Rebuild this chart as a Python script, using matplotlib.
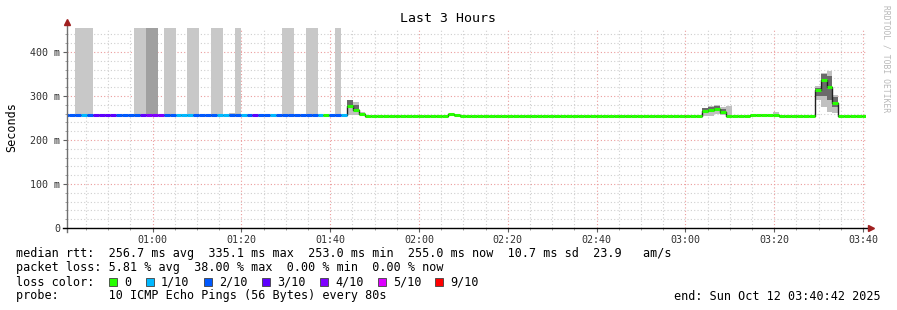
import numpy as np
import matplotlib
matplotlib.use('Agg')
import matplotlib.pyplot as plt
from matplotlib.patches import Rectangle

# time axis in minutes after midnight, one sample every 80 s
t_start = 40.7
t_end = 220.7
t0 = 41.15
step = 80 / 60.0
first_k = -1

# median rtt as runs: (number of steps, median ms, lost pings of 10)
run_len = [3, 1, 1, 4, 4, 1, 3, 2, 3, 4, 2, 2, 1, 1, 1, 2, 1, 7, 1, 1, 2, 1,
           1, 1, 1, 14, 1, 1, 39, 2, 1, 1, 1, 1, 1, 3, 4, 1, 6, 1, 1, 1, 1, 5]
run_med = [256, 256, 256, 256, 256, 256, 256, 256, 256, 256, 256, 256, 256, 256,
           256, 256, 256, 256, 256, 256, 256, 256,
           278, 268, 260, 253.5, 258, 256, 253.5, 255.5, 267, 268, 270, 263, 255,
           253.5, 256, 257, 255, 313, 336, 320, 284, 255]
run_loss = [2, 1, 2, 3, 2, 3, 4, 2, 1, 2, 1, 2, 1, 2, 3, 2, 1, 2, 1, 0, 2, 1,
            0, 0, 0, 0, 0, 0, 0, 0, 0, 0, 0, 0, 0, 0, 0, 0, 0, 0, 0, 0, 0, 0]

# full height grey columns (steps with lost pings in the smoke)
gap_start = [1, 11, 13, 16, 20, 24, 28, 36, 40, 45]
gap_len = [3, 2, 2, 2, 2, 2, 1, 2, 2, 1]
gap_dark = [0, 0, 1, 0, 0, 0, 0, 0, 0, 0]

# smoke around the median (ms)
smoke_k = [5, 6, 27, 28, 47, 48, 49, 64, 107, 108, 109, 110, 111, 119, 126, 127, 128, 129]
smoke_lo = [256, 256, 256, 256, 256, 256, 256, 256, 254, 254, 258, 256, 256, 258, 291, 276, 264, 261]
smoke_hi = [259, 259, 262, 262, 291, 286, 263, 260, 273, 277, 280, 275, 277, 263, 322, 353, 357, 302]
core_lo = [256, 256, 256, 256, 278, 265, 258, 256, 262, 264, 266, 260, 256, 258, 300, 300, 290, 275]
core_hi = [256, 256, 256, 256, 291, 280, 262, 256, 272, 275, 278, 270, 256, 258, 318, 350, 345, 298]

loss_labels = ['0', '1/10', '2/10', '3/10', '4/10', '5/10', '9/10']
loss_colors = ['#26ff00', '#00b8ff', '#0059ff', '#5e00ff', '#7e00ff', '#dd00ff', '#ff0000']

y_top = 0.4545

med = np.repeat(np.array(run_med) / 1000.0, run_len)
loss = np.repeat(run_loss, run_len)
ks = np.arange(first_k, first_k + len(med))
left = t0 + ks * step

mono = 'DejaVu Sans Mono'
fig = plt.figure(figsize=(8.97, 3.10), dpi=100)
ax = fig.add_axes([67 / 897, 82 / 310, 799 / 897, 200 / 310])

# grid
ax.set_xlim(t_start, t_end)
ax.set_ylim(0, y_top)
ax.set_xticks(np.arange(60, 221, 20))
ax.set_xticks(np.arange(45, 221, 5), minor=True)
ax.set_yticks(np.arange(0, 0.41, 0.1))
ax.set_yticks(np.arange(0, y_top, 0.02), minor=True)
ax.grid(which='minor', color='#cfcfcf', linestyle=(0, (1, 2)), linewidth=0.8)
ax.grid(which='major', color='#eb9c9c', linestyle=(0, (1, 2)), linewidth=0.8)
ax.set_axisbelow(True)

# loss columns
for s, n, d in zip(gap_start, gap_len, gap_dark):
    for k in range(s, s + n):
        i = k - first_k
        ax.bar(left[i], y_top - med[i], bottom=med[i], width=step, align='edge',
               color='#a0a0a0' if d else '#c8c8c8', linewidth=0, zorder=2)

# smoke
for k, lo, hi, clo, chi in zip(smoke_k, smoke_lo, smoke_hi, core_lo, core_hi):
    x = t0 + k * step
    ax.bar(x, (hi - lo) / 1000, bottom=lo / 1000, width=step, align='edge',
           color='#c0c0c0', linewidth=0, zorder=2)
    if chi > clo:
        ax.bar(x, (chi - clo) / 1000, bottom=clo / 1000, width=step, align='edge',
               color='#6a6a6a', linewidth=0, zorder=2)

# median: thin dark step line and coloured segments on top
ax.step(np.append(left, left[-1] + step), np.append(med, med[-1]), where='post',
        color='#202020', linewidth=1.0, zorder=3)
ax.hlines(med, left, left + step, colors=[loss_colors[l] for l in loss],
          linewidth=2.2, zorder=4)

# axes look
for sp in ax.spines.values():
    sp.set_visible(False)
ax.plot([0, 0], [-0.02, 1.03], transform=ax.transAxes, color='#707070',
        linewidth=1, clip_on=False, zorder=5)
ax.plot([-0.005, 1.004], [0, 0], transform=ax.transAxes, color='#000000',
        linewidth=1, clip_on=False, zorder=5)
ax.plot([0], [1.03], marker='^', markersize=4, color='#a02020',
        transform=ax.transAxes, clip_on=False, zorder=6)
ax.plot([1.006], [0], marker='>', markersize=4, color='#a02020',
        transform=ax.transAxes, clip_on=False, zorder=6)

ax.set_yticklabels(['0', '100 m', '200 m', '300 m', '400 m'])
ax.set_xticklabels(['%02d:%02d' % (m // 60, m % 60) for m in range(60, 221, 20)])
ax.tick_params(which='major', length=3, width=0.8, color='#606060', pad=2,
               labelsize=7.2, labelcolor='#303030')
ax.tick_params(which='minor', length=1.5, width=0.6, color='#909090')
for lab in ax.get_xticklabels() + ax.get_yticklabels():
    lab.set_family(mono)

fig.text(448 / 897, 1 - 19 / 310, 'Last 3 Hours', family=mono, fontsize=9.5,
         ha='center', va='center')
fig.text(12 / 897, 1 - 127 / 310, 'Seconds', family=mono, fontsize=8.5,
         rotation=90, ha='center', va='center')
fig.text(886 / 897, 1 - 59 / 310, 'RRDTOOL / TOBI OETIKER', family=mono, fontsize=5.8,
         rotation=270, ha='center', va='center', color='#b8b8b8')

legend_rows = [
    'median rtt:  256.7 ms avg  335.1 ms max  253.0 ms min  255.0 ms now  10.7 ms sd  23.9   am/s',
    'packet loss: 5.81 % avg  38.00 % max  0.00 % min  0.00 % now',
    'loss color:',
    'probe:       10 ICMP Echo Pings (56 Bytes) every 80s',
]
for j, row in enumerate(legend_rows):
    fig.text(16 / 897, 1 - (254 + 14 * j) / 310, row, family=mono, fontsize=8.5,
             ha='left', va='center')

box_x = [109, 146, 204, 262, 320, 378, 435]
for bx, lab, col in zip(box_x, loss_labels, loss_colors):
    fig.add_artist(Rectangle((bx / 897, 1 - 286 / 310), 8 / 897, 8 / 310,
                             transform=fig.transFigure, facecolor=col,
                             edgecolor='#404040', linewidth=0.6))
    fig.text((bx + 15) / 897, 1 - 282 / 310, lab, family=mono, fontsize=8.5,
             ha='left', va='center')

fig.text(881 / 897, 1 - 296 / 310, 'end: Sun Oct 12 03:40:42 2025', family=mono,
         fontsize=8.5, ha='right', va='center')

fig.savefig('out.png', dpi=100)
